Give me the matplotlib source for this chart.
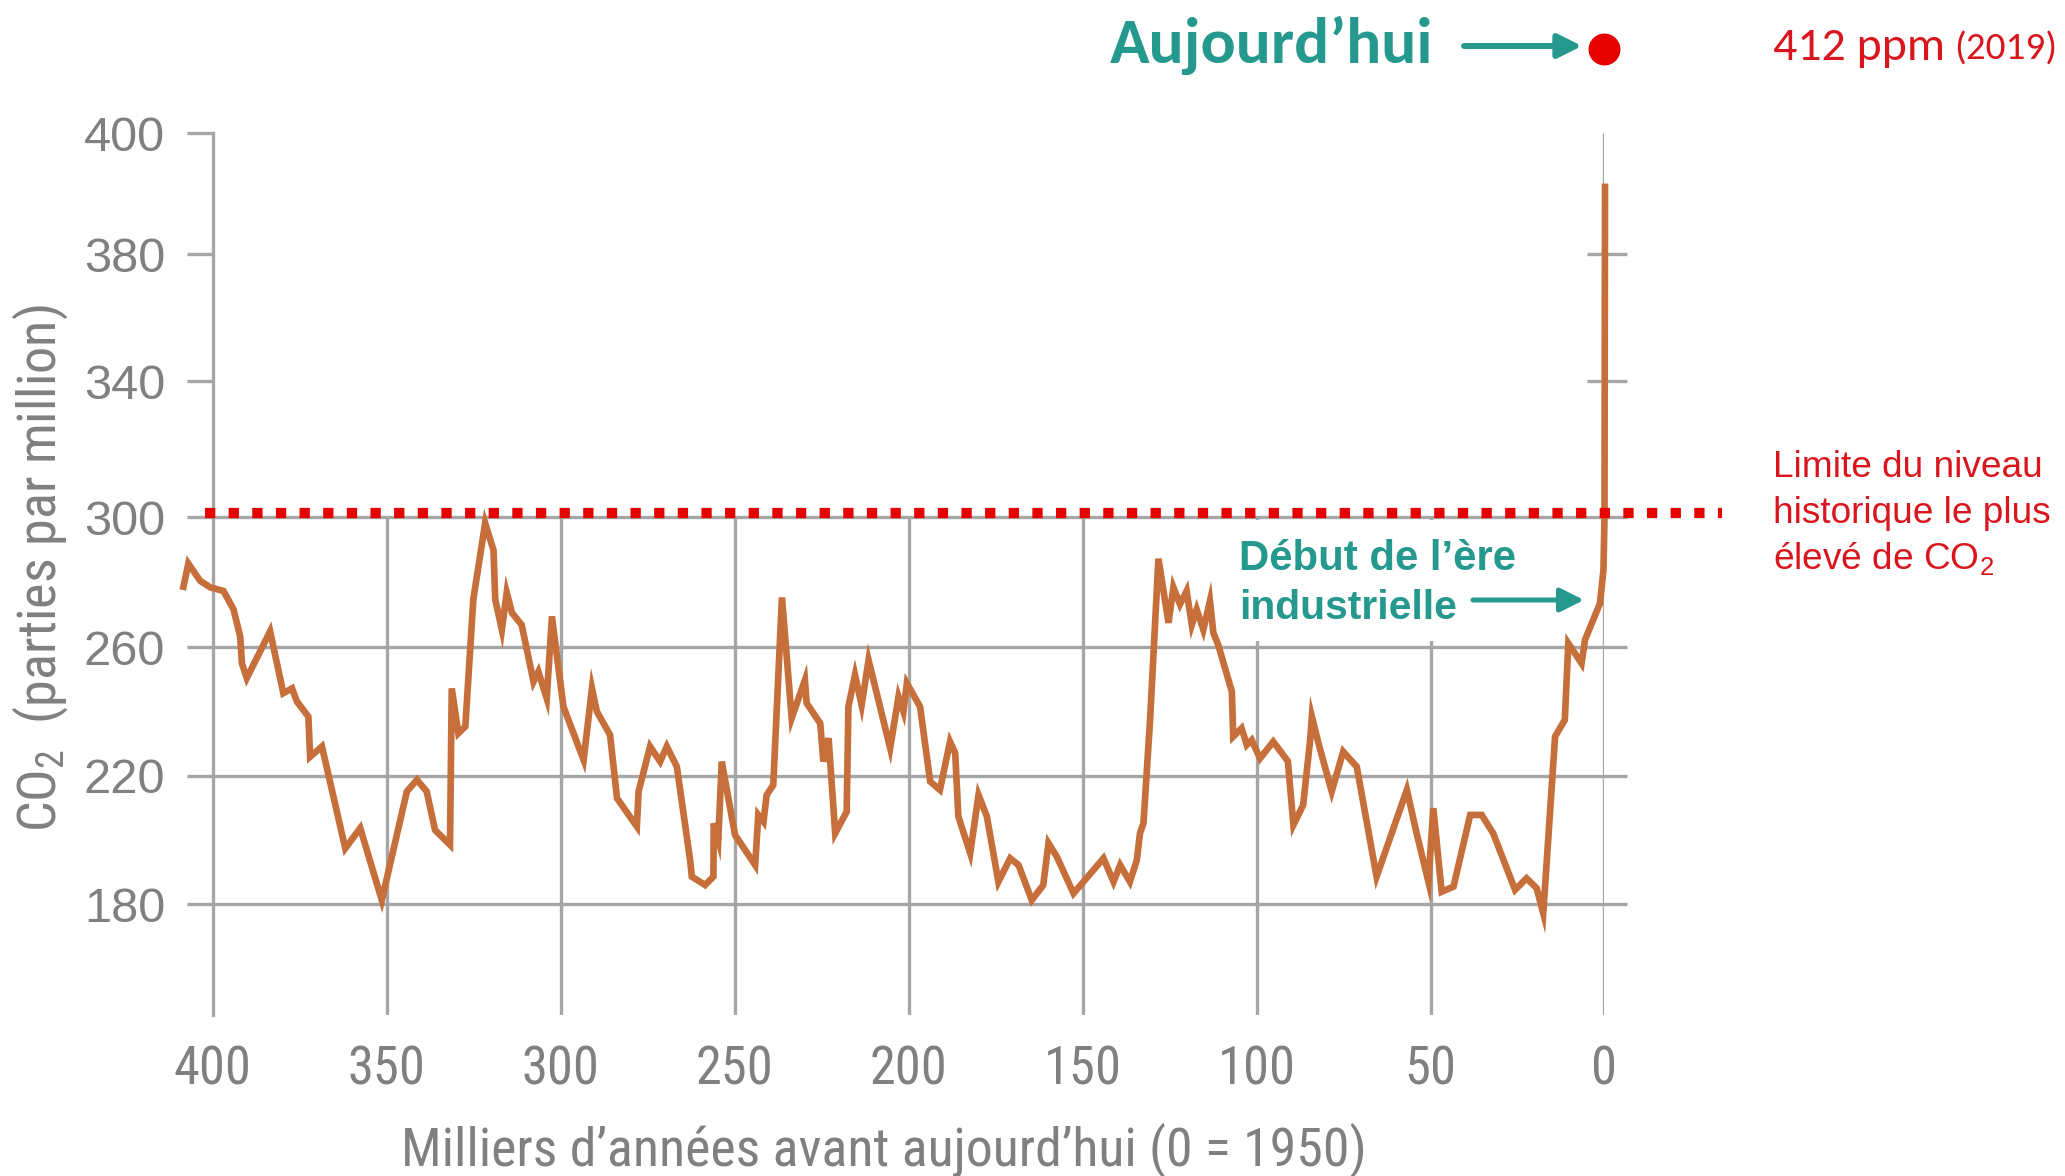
import numpy as np
import matplotlib
matplotlib.use("Agg")
import matplotlib.pyplot as plt
from matplotlib import font_manager as fm
from matplotlib.patches import Rectangle

# ---------------- data ----------------
kyr_bp = [408.6, 407.0, 403.6, 400.7, 396.9, 394.0, 392.1, 391.6, 390.2, 383.5,
          379.7, 377.2, 375.8, 372.5, 372.0, 368.6, 361.9, 357.6, 351.4, 344.2,
          341.3, 338.5, 336.1, 331.8, 331.3, 329.4, 327.4, 325.1, 321.7, 319.3,
          318.8, 316.9, 315.5, 314.0, 311.2, 307.8, 306.4, 304.0, 302.5, 300.8,
          299.2, 293.4, 291.0, 289.6, 285.8, 283.8, 278.1, 277.6, 274.3, 271.4,
          269.5, 266.6, 262.8, 262.3, 258.5, 256.1, 256.0, 254.7, 253.7, 249.9,
          244.1, 243.2, 241.7, 240.8, 238.9, 236.4, 233.6, 229.8, 229.3, 225.4,
          224.5, 223.0, 221.1, 217.8, 217.3, 215.4, 213.5, 211.5, 205.3, 202.9,
          201.5, 200.5, 196.7, 193.8, 191.0, 188.1, 186.6, 185.7, 182.3, 179.9,
          177.5, 174.2, 170.8, 168.4, 164.6, 161.3, 159.8, 157.4, 152.6, 144.0,
          141.1, 139.2, 136.4, 134.4, 133.5, 132.5, 130.6, 128.2, 125.3, 123.9,
          122.0, 120.1, 118.6, 117.2, 115.3, 113.4, 112.4, 111.0, 107.1, 106.7,
          104.3, 102.8, 101.4, 99.0, 95.2, 91.0, 89.4, 86.6, 84.6, 84.1,
          82.2, 78.4, 75.1, 71.2, 65.5, 56.8, 54.0, 50.6, 49.2, 46.8,
          43.4, 38.6, 35.3, 32.0, 25.7, 22.4, 19.5, 17.6, 14.2, 11.4,
          10.4, 6.6, 5.6, 1.3, 0.3, 0.0, -0.15]
co2_ppm = [277.6, 285.7, 280.4, 278.4, 277.3, 271.6, 263.3, 255.0, 250.4, 264.9,
           245.7, 247.2, 243.1, 238.4, 225.9, 229.1, 197.4, 203.7, 181.3, 215.1,
           218.7, 215.1, 203.1, 198.5, 247.2, 233.2, 235.3, 274.7, 298.1, 289.8,
           274.7, 265.4, 276.8, 270.6, 266.9, 249.3, 252.4, 244.1, 269.5, 255.0,
           241.5, 224.9, 247.2, 240.0, 232.7, 213.0, 204.2, 215.1, 229.1, 224.4,
           229.1, 222.8, 193.8, 188.6, 186.0, 188.6, 205.2, 200.0, 224.4, 201.6,
           192.2, 207.8, 205.7, 214.0, 217.1, 275.3, 237.9, 249.8, 242.6, 236.3,
           224.4, 231.7, 202.1, 208.8, 241.5, 251.4, 242.0, 256.0, 228.6, 244.6,
           240.0, 248.8, 241.5, 218.2, 215.6, 230.6, 227.0, 207.3, 195.9, 214.0,
           207.3, 187.0, 194.3, 192.2, 181.3, 186.0, 199.0, 194.8, 183.4, 194.3,
           187.0, 192.2, 187.0, 193.8, 202.1, 205.2, 237.4, 287.2, 267.5, 278.4,
           273.2, 277.3, 266.9, 271.6, 265.4, 274.2, 264.4, 260.7, 246.2, 232.2,
           234.8, 229.6, 231.1, 225.4, 230.6, 224.5, 204.7, 210.9, 231.1, 238.4,
           230.1, 215.1, 227.5, 222.8, 188.6, 215.6, 202.1, 187.0, 209.9, 183.9,
           185.5, 207.8, 207.8, 202.1, 184.5, 188.1, 185.0, 177.2, 232.2, 237.4,
           261.2, 255.0, 262.3, 273.5, 283.7, 300.0, 391.7]
today_ppm = 414
limit_ppm = 301.3

xtick_vals = [400, 350, 300, 250, 200, 150, 100, 50, 0]
xtick_labels = ["400", "350", "300", "250", "200", "150", "100", "50", "0"]
ytick_vals = [180, 220, 260, 300, 340, 380, 400]
ytick_labels = ["180", "220", "260", "300", "340", "380", "400"]

# ---------------- styling / layout ----------------
W, H = 2065, 1176
GRAY_TXT = "#808080"
GRID = "#A6A6A6"
CURVE = "#C66F3A"
RED_DOT = "#E60000"
RED_TXT = "#D9161E"
TEAL = "#26998F"

names = {f.name for f in fm.fontManager.ttflist}


def pick(cands, default):
    for c in cands:
        if c in names:
            return c
    return default


NARROW = pick(["Liberation Sans Narrow", "Arial Narrow", "Roboto Condensed", "Archivo Narrow",
               "PT Sans Narrow", "IBM Plex Sans Condensed"], "Liberation Sans")
CALIBRI = pick(["Carlito", "Calibri", "Lato"], "Liberation Sans")
plt.rcParams["font.family"] = ["Liberation Sans", "DejaVu Sans"]
plt.rcParams["mathtext.default"] = "regular"

# the original axis is not uniformly spaced: map each labelled value onto its drawn height
tick_units = np.array([0, 128.6, 257.0, 387.3, 523.3, 650.0, 771.0])
tv = np.array(ytick_vals, float)
S0 = (tick_units[1] - tick_units[0]) / (tv[1] - tv[0])
S1 = (tick_units[-1] - tick_units[-2]) / (tv[-1] - tv[-2])


def fwd(v):
    v = np.asarray(v, float)
    out = np.interp(v, tv, tick_units)
    out = np.where(v < tv[0], tick_units[0] + (v - tv[0]) * S0, out)
    out = np.where(v > tv[-1], tick_units[-1] + (v - tv[-1]) * S1, out)
    return out


def inv(u):
    u = np.asarray(u, float)
    out = np.interp(u, tick_units, tv)
    out = np.where(u < tick_units[0], tv[0] + (u - tick_units[0]) / S0, out)
    out = np.where(u > tick_units[-1], tv[-1] + (u - tick_units[-1]) / S1, out)
    return out


def fx(px):
    return px / W


def fy(py):
    return 1 - py / H


fig = plt.figure(figsize=(W / 100, H / 100), dpi=100)
renderer = fig.canvas.get_renderer()


def fit(t, target, use_height=False):
    bb = t.get_window_extent(renderer)
    cur = bb.height if use_height else bb.width
    t.set_fontsize(t.get_fontsize() * target / cur)
    return t


def size_for(s, target, **kw):
    t = fig.text(0, 0, s, fontsize=40, **kw)
    bb = t.get_window_extent(renderer)
    size = 40 * target / bb.width
    t.remove()
    return size


ax_left, ax_right, ax_top, ax_bot = 212.7, 1604.5, 133.3, 1015.0
ax = fig.add_axes([fx(ax_left), fy(ax_bot), (ax_right - ax_left) / W, (ax_bot - ax_top) / H])
ax.set_yscale("function", functions=(fwd, inv))
ybot = float(inv(904.3 - ax_bot))
ax.set_xlim(400, 0)
ax.set_ylim(ybot, 400)

for s in ["top", "right", "bottom"]:
    ax.spines[s].set_visible(False)
ax.spines["left"].set_color(GRID)
ax.spines["left"].set_linewidth(2.4)
ax.spines["left"].set_zorder(1)

ysize = size_for("400", 81, family="Liberation Sans")
xsize = size_for("400", 78, family=NARROW)

ax.set_yticks(ytick_vals)
ax.set_yticklabels(ytick_labels)
ax.tick_params(axis="y", direction="out", length=18.7, width=2.4, color=GRID,
               labelsize=ysize, labelcolor=GRAY_TXT, pad=15.5)
ax.set_xticks(xtick_vals)
ax.set_xticklabels(xtick_labels, fontfamily=NARROW)
ax.tick_params(axis="x", length=0, labelsize=xsize, labelcolor=GRAY_TXT, pad=21)

# grid (partial, as in the original)
x_right = (1604.5 - 1627) / 3.48
ax.hlines([180, 220, 260, 300], 400, x_right, color=GRID, lw=2.4, zorder=1, clip_on=False)
ax.hlines([340, 380], (1604.5 - 1587) / 3.48, x_right, color=GRID, lw=2.4, zorder=1, clip_on=False)
ax.vlines([350, 300, 250, 200, 150, 100, 50], ybot, 300, color=GRID, lw=2.4, zorder=1)
ax.vlines([0], ybot, 400, color=GRID, lw=2.4, zorder=1)

# white panel behind the "Début" annotation
ax.add_patch(Rectangle((fx(1236), fy(641)), (1590 - 1236) / W, (641 - 520) / H,
                       transform=fig.transFigure, facecolor="white", edgecolor="none",
                       zorder=1.5, clip_on=False))

# CO2 curve
ax.plot(kyr_bp, co2_ppm, color=CURVE, lw=4.8, zorder=3, clip_on=False,
        solid_joinstyle="miter", solid_capstyle="butt")

# historical upper limit (red dotted)
ax.plot([(1604.5 - 205) / 3.48, (1604.5 - 1722) / 3.48], [limit_ppm, limit_ppm],
        color=RED_DOT, lw=7.4, linestyle=(0, (1, 1.3)), dash_capstyle="butt",
        zorder=3.5, clip_on=False)

# today's value
ax.plot([0], [today_ppm], "o", color=RED_DOT, markersize=23, markeredgewidth=0,
        zorder=4, clip_on=False)

# axis labels
xl = ax.set_xlabel("Milliers d\u2019années avant aujourd\u2019hui (0 = 1950)", fontfamily=NARROW,
                   fontsize=40, color=GRAY_TXT, va="center")
ax.xaxis.set_label_coords((884 - ax_left) / (ax_right - ax_left), -(1150 - ax_bot) / (ax_bot - ax_top))
fit(xl, 965)
yl = ax.set_ylabel("CO$_2$  (parties par million)", fontfamily=NARROW, fontsize=40,
                   color=GRAY_TXT, va="center", ha="center")
ax.yaxis.set_label_coords((40 - ax_left) / (ax_right - ax_left), (ax_bot - 568) / (ax_bot - ax_top))
fit(yl, 527, use_height=True)

# annotations
t = fig.text(fx(1110), fy(63), "Aujourd\u2019hui", fontfamily=CALIBRI, fontweight="bold",
             fontsize=43, color=TEAL, ha="left", va="baseline")
fit(t, 323)
arrow_kw = dict(arrowstyle="-|>,head_length=0.8,head_width=0.4", color=TEAL,
                shrinkA=0, shrinkB=0, mutation_scale=18)
ax.annotate("", xy=(fx(1582), fy(46)), xytext=(fx(1464), fy(46)),
            xycoords="figure fraction", textcoords="figure fraction",
            arrowprops=dict(lw=4.3, **arrow_kw), zorder=5)
t = fig.text(fx(1773), fy(60), "412 ppm", fontfamily=CALIBRI, fontsize=30,
             color=RED_TXT, ha="left", va="baseline")
fit(t, 172)
t = fig.text(fx(1954), fy(60), "(2019)", fontfamily=CALIBRI, fontsize=24,
             color=RED_TXT, ha="left", va="baseline")
fit(t, 103)

lim_size = size_for("historique le plus", 278, family="Liberation Sans")
for txt, yb in [("Limite du niveau", 477), ("historique le plus", 523), ("élevé de CO$_2$", 569)]:
    fig.text(fx(1773), fy(yb), txt, fontsize=lim_size, color=RED_TXT, ha="left", va="baseline")

deb_size = size_for("Début de l\u2019ère", 277, family="Liberation Sans", fontweight="bold")
ind_size = size_for("industrielle", 218, family="Liberation Sans", fontweight="bold")
ax.text(fx(1239), fy(570), "Début de l\u2019ère", transform=fig.transFigure, fontsize=deb_size,
        fontweight="bold", color=TEAL, ha="left", va="baseline", zorder=5)
ax.text(fx(1239), fy(619), "industrielle", transform=fig.transFigure, fontsize=ind_size,
        fontweight="bold", color=TEAL, ha="left", va="baseline", zorder=5)
ax.annotate("", xy=(fx(1584), fy(600)), xytext=(fx(1473), fy(600)),
            xycoords="figure fraction", textcoords="figure fraction",
            arrowprops=dict(lw=3.6, **arrow_kw), zorder=5)

fig.savefig("out.png", dpi=100, facecolor="white")
